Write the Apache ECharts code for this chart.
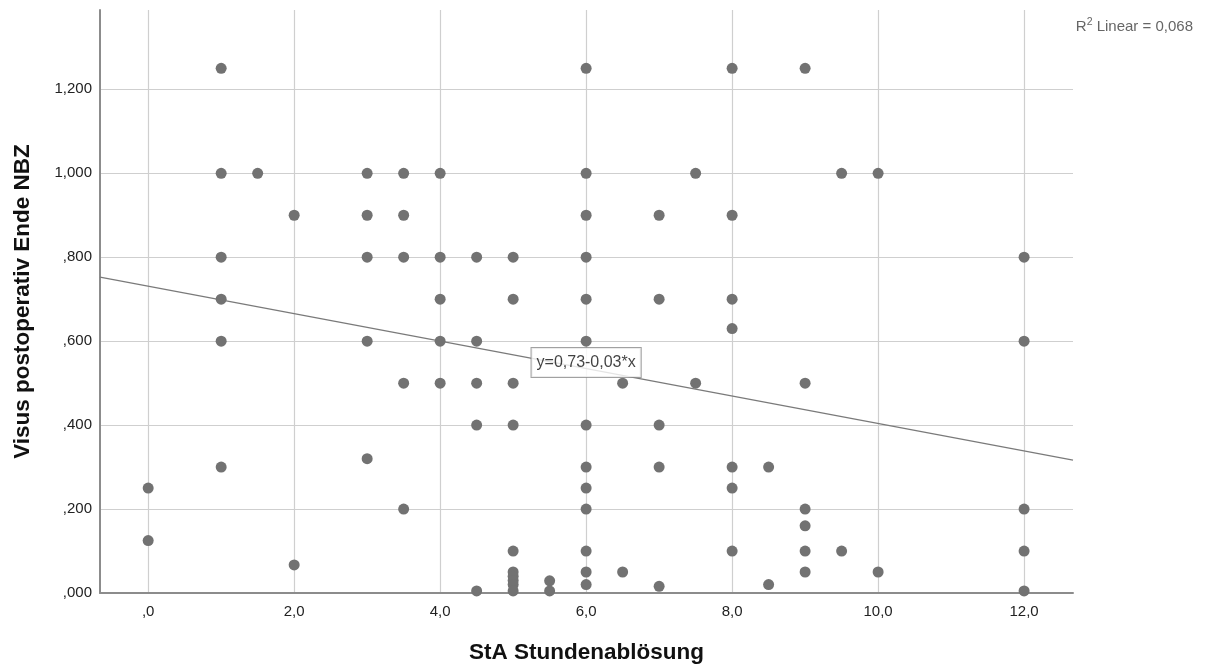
<!DOCTYPE html>
<html>
<head>
<meta charset="utf-8">
<script src="https://cdn.jsdelivr.net/npm/echarts@6/dist/echarts.min.js"></script>
<style>
  html, body { margin: 0; padding: 0; background: #fff; }
  #chart { width: 1206px; height: 668px; }
</style>
</head>
<body>
<div id="chart"></div>
<script>
// StA Stundenablösung (hours) against final postoperative visual acuity (NBZ)
const stundenAbloesung = [
  0, 0,
  1, 1, 1, 1, 1, 1,
  1.5,
  2, 2,
  3, 3, 3, 3, 3,
  3.5, 3.5, 3.5, 3.5, 3.5,
  4, 4, 4, 4, 4,
  4.5, 4.5, 4.5, 4.5, 4.5,
  5, 5, 5, 5, 5, 5, 5, 5, 5, 5,
  5.5, 5.5,
  6, 6, 6, 6, 6, 6, 6, 6, 6, 6, 6, 6, 6,
  6.5, 6.5,
  7, 7, 7, 7, 7,
  7.5, 7.5,
  8, 8, 8, 8, 8, 8, 8,
  8.5, 8.5,
  9, 9, 9, 9, 9, 9,
  9.5, 9.5,
  10, 10,
  12, 12, 12, 12, 12
];
const visusEnde = [
  0.25, 0.125,
  1.25, 1.0, 0.8, 0.7, 0.6, 0.3,
  1.0,
  0.9, 0.067,
  1.0, 0.9, 0.8, 0.6, 0.32,
  1.0, 0.9, 0.8, 0.5, 0.2,
  1.0, 0.8, 0.7, 0.6, 0.5,
  0.8, 0.6, 0.5, 0.4, 0.005,
  0.8, 0.7, 0.5, 0.4, 0.1, 0.05, 0.04, 0.03, 0.02, 0.005,
  0.029, 0.005,
  1.25, 1.0, 0.9, 0.8, 0.7, 0.6, 0.4, 0.3, 0.25, 0.2, 0.1, 0.05, 0.02,
  0.5, 0.05,
  0.9, 0.7, 0.4, 0.3, 0.016,
  1.0, 0.5,
  1.25, 0.9, 0.7, 0.63, 0.3, 0.25, 0.1,
  0.3, 0.02,
  1.25, 0.5, 0.2, 0.16, 0.1, 0.05,
  1.0, 0.1,
  1.0, 0.05,
  0.8, 0.6, 0.2, 0.1, 0.005
];
const xTicks = [0, 2, 4, 6, 8, 10, 12];
const yTicks = [0, 0.2, 0.4, 0.6, 0.8, 1.0, 1.2];
const xRange = [-0.66, 12.67];
const yRange = [0, 1.389];

// linear fit reported for the full sample (y = intercept + slope * x)
const fitIntercept = 0.731;
const fitSlope = -0.0327;
const rSquared = 0.068;

// German decimal style as printed by SPSS: ",200", "1,200", ",0", "2,0"
function deNumber(v, digits) {
  let s = v.toFixed(digits).replace('.', ',');
  if (s.startsWith('0,')) s = s.slice(1);
  return s;
}

const points = stundenAbloesung.map((x, i) => [x, visusEnde[i]]);
const fitLine = xRange.map(x => [x, fitIntercept + fitSlope * x]);
const labelX = 6;
const fitLabel = 'y=' + fitIntercept.toFixed(2).replace('.', ',') +
  (fitSlope < 0 ? '-' : '+') + Math.abs(fitSlope).toFixed(2).replace('.', ',') + '*x';
const rSquaredText = rSquared.toFixed(3).replace('.', ',');

const chart = echarts.init(document.getElementById('chart'), null, { renderer: 'canvas' });
const fontFamily = '"Liberation Sans", Arial, sans-serif';

chart.setOption({
  animation: false,
  backgroundColor: '#ffffff',
  textStyle: { fontFamily: fontFamily },
  title: {
    text: '{r|R}{sup|2}{r| Linear = ' + rSquaredText + '}',
    right: 8,
    top: 12,
    textStyle: {
      fontWeight: 'normal',
      rich: {
        r: { fontSize: 15, fontWeight: 'normal', color: '#666666', fontFamily: fontFamily },
        sup: { fontSize: 10.5, fontWeight: 'normal', color: '#666666', fontFamily: fontFamily, verticalAlign: 'top', padding: [0, 0, 8, 0] }
      }
    }
  },
  grid: { left: 100, right: 133, top: 10, bottom: 75, containLabel: false, outerBoundsMode: 'none' },
  xAxis: {
    type: 'value',
    min: xRange[0],
    max: xRange[1],
    name: 'StA Stundenablösung',
    nameLocation: 'middle',
    nameGap: 48,
    nameTextStyle: { fontSize: 22.5, fontWeight: 'bold', color: '#111111', fontFamily: fontFamily },
    axisLine: { show: true, onZero: false, lineStyle: { color: '#8c8c8c', width: 2 } },
    axisTick: { show: false, customValues: xTicks },
    axisLabel: {
      customValues: xTicks,
      margin: 11,
      fontSize: 15,
      color: '#222222',
      formatter: v => deNumber(v, 1)
    },
    splitLine: { show: true, lineStyle: { color: '#cfcfcf', width: 1.2 } }
  },
  yAxis: {
    type: 'value',
    min: yRange[0],
    max: yRange[1],
    name: 'Visus postoperativ Ende NBZ',
    nameLocation: 'middle',
    nameGap: 66,
    nameTextStyle: { fontSize: 22.5, fontWeight: 'bold', color: '#111111', fontFamily: fontFamily },
    axisLine: { show: true, onZero: false, lineStyle: { color: '#8c8c8c', width: 2 } },
    axisTick: { show: false, customValues: yTicks },
    axisLabel: {
      customValues: yTicks,
      margin: 8,
      fontSize: 15,
      color: '#222222',
      formatter: v => deNumber(v, 3)
    },
    splitLine: { show: true, lineStyle: { color: '#cfcfcf', width: 1.2 } }
  },
  series: [
    {
      name: 'fit',
      type: 'line',
      data: fitLine,
      symbol: 'none',
      lineStyle: { color: '#7a7a7a', width: 1.3 },
      z: 2,
      silent: true
    },
    {
      name: 'Visus',
      type: 'scatter',
      data: points,
      symbol: 'circle',
      symbolSize: 11,
      itemStyle: { color: '#727272', opacity: 1 },
      z: 3
    },
    {
      name: 'fitLabel',
      type: 'scatter',
      data: [[labelX, fitIntercept + fitSlope * labelX]],
      symbolSize: 0,
      z: 4,
      label: {
        show: true,
        position: 'inside',
        offset: [0, -6],
        formatter: fitLabel,
        fontSize: 16,
        color: '#111111',
        fontFamily: fontFamily,
        backgroundColor: '#ffffff',
        borderColor: '#8a8a8a',
        borderWidth: 1,
        padding: [7, 5, 6, 5]
      }
    }
  ]
});
</script>
</body>
</html>
